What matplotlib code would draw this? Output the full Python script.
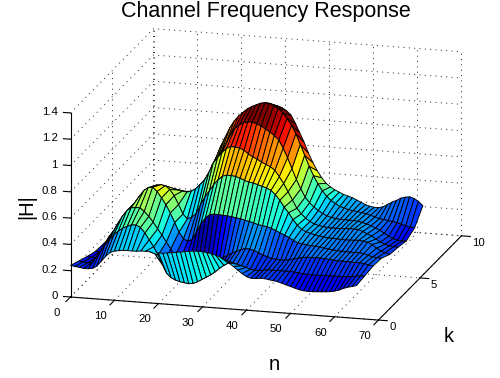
import numpy as np
import matplotlib
matplotlib.use("Agg")
import matplotlib.pyplot as plt
from mpl_toolkits.mplot3d import proj3d

plt.rcParams['font.family'] = ['Liberation Sans', 'DejaVu Sans']

n_values = list(range(0, 66))
k_values = list(range(0, 9))
z_k0 = [.24,.235,.23,.225,.225,.23,.25,.29,.33,.36,.375,.38,.385,.385,.385,.385,.39,.39,.39,.385,.385,.385,.39,.395,.40,.405,.41,.415,.42,.42,.42,.415,.41,.40,.39,.37,.35,.325,.30,.275,.255,.245,.245,.25,.25,.245,.24,.235,.225,.215,.205,.195,.185,.18,.178,.178,.18,.182,.185,.188,.195,.205,.22,.232,.24,.25]
z_k1 = [.21,.205,.20,.205,.25,.30,.35,.39,.43,.46,.485,.50,.515,.515,.50,.46,.41,.36,.30,.23,.165,.135,.12,.11,.105,.10,.105,.12,.14,.16,.18,.205,.235,.26,.28,.283,.275,.265,.255,.245,.24,.24,.245,.25,.25,.25,.25,.25,.25,.248,.243,.24,.238,.237,.237,.237,.238,.24,.24,.24,.24,.243,.247,.252,.256,.26]
z_k2 = [.18,.175,.175,.19,.27,.345,.39,.45,.505,.55,.575,.58,.58,.555,.52,.48,.43,.385,.335,.285,.235,.195,.16,.135,.12,.12,.125,.14,.16,.19,.22,.25,.27,.29,.305,.32,.33,.328,.32,.305,.29,.28,.27,.265,.262,.265,.27,.278,.288,.295,.30,.30,.30,.30,.298,.295,.293,.29,.29,.288,.287,.287,.287,.283,.276,.27]
z_k3 = [.155,.155,.17,.21,.26,.32,.38,.44,.50,.55,.60,.645,.67,.675,.645,.60,.55,.49,.42,.35,.30,.285,.30,.36,.425,.47,.50,.505,.505,.50,.50,.495,.49,.485,.475,.47,.46,.45,.445,.44,.43,.415,.40,.385,.37,.35,.335,.33,.325,.32,.318,.315,.31,.305,.30,.298,.295,.295,.295,.294,.294,.29,.28,.27,.267,.265]
z_k4 = [.15,.15,.16,.19,.24,.30,.36,.42,.48,.54,.585,.61,.625,.63,.625,.60,.555,.49,.42,.385,.40,.43,.50,.56,.61,.66,.70,.73,.74,.74,.735,.725,.71,.70,.695,.685,.675,.665,.65,.62,.58,.53,.49,.44,.40,.37,.355,.345,.335,.33,.325,.32,.32,.318,.316,.316,.316,.318,.32,.315,.31,.295,.27,.25,.24,.23]
z_k5 = [.15,.15,.16,.18,.22,.27,.32,.37,.42,.47,.51,.53,.54,.54,.54,.53,.525,.52,.53,.55,.585,.62,.68,.755,.80,.84,.875,.89,.89,.885,.87,.845,.825,.81,.79,.775,.76,.735,.69,.64,.58,.52,.46,.42,.39,.365,.35,.34,.335,.33,.33,.33,.33,.332,.334,.334,.333,.32,.305,.29,.27,.25,.235,.226,.222,.22]
z_k6 = [.16,.16,.165,.18,.21,.25,.29,.33,.37,.41,.44,.46,.47,.465,.455,.445,.45,.46,.47,.52,.59,.665,.72,.78,.84,.91,.96,.99,1.01,1.02,1.02,1.01,.995,.975,.955,.93,.90,.84,.77,.69,.61,.54,.48,.44,.41,.385,.365,.35,.34,.335,.33,.33,.33,.33,.327,.32,.31,.30,.285,.27,.25,.23,.215,.205,.20,.205]
z_k7 = [.19,.185,.185,.19,.20,.22,.24,.27,.295,.32,.345,.36,.375,.385,.39,.40,.41,.455,.51,.60,.67,.755,.825,.895,.95,.99,1.02,1.05,1.07,1.085,1.10,1.107,1.105,1.09,1.07,1.04,1.00,.95,.89,.81,.73,.65,.58,.52,.47,.43,.40,.38,.36,.35,.34,.335,.33,.325,.32,.31,.30,.29,.285,.28,.275,.27,.26,.25,.245,.24]
z_k8 = [.22,.215,.21,.205,.20,.205,.21,.22,.23,.24,.25,.26,.27,.28,.29,.31,.40,.47,.55,.63,.70,.76,.81,.85,.89,.92,.94,.96,.99,1.01,1.02,1.025,1.02,1.01,.99,.96,.90,.83,.76,.68,.61,.55,.50,.46,.435,.415,.40,.385,.375,.365,.35,.335,.32,.31,.305,.305,.315,.335,.355,.37,.39,.40,.405,.395,.375,.345]
n_ticks = [0, 10, 20, 30, 40, 50, 60, 70]
k_ticks = [0, 5, 10]
z_ticks = [0, 0.2, 0.4, 0.6, 0.8, 1.0, 1.2, 1.4]
z_tick_labels = ['0', '0.2', '0.4', '0.6', '0.8', '1', '1.2', '1.4']

W, H = 500, 378
fig = plt.figure(figsize=(W/100, H/100), dpi=100)
size = 320
ax = fig.add_axes([100/W, 40/H, size/W, size/H], projection='3d',
                  proj_type='ortho', computed_zorder=False)
ax.set_xlim(0, 70, view_margin=0)
ax.set_ylim(0, 10, view_margin=0)
ax.set_zlim(0, 1.4, view_margin=0)
ax.view_init(elev=16, azim=-74.8)
ax.set_box_aspect((319, 316.6, 191.4))
ax.set_axis_off()


def to_px(x, y, z):
    px, py, _ = proj3d.proj_transform(x, y, z, ax.get_proj())
    return ax.transData.transform((px, py))

# fit the box so that its corners land where the reference has them
origin_target = np.array([70.5, H - 297.0])
right_target = np.array([378.5, H - 319.5])
for _ in range(3):
    ax.apply_aspect()
    a = to_px(0, 0, 0)
    b = to_px(70, 0, 0)
    s = np.linalg.norm(right_target - origin_target) / np.linalg.norm(b - a)
    size *= s
    pos = ax.get_position()
    ax.set_position([pos.x0, pos.y0, size/W, size/H])
    ax.apply_aspect()
    a = to_px(0, 0, 0)
    d = origin_target - a
    pos = ax.get_position()
    ax.set_position([pos.x0 + d[0]/W, pos.y0 + d[1]/H, size/W, size/H])
    ax.apply_aspect()


def label(x, y, z, s, **kw):
    p = to_px(x, y, z)
    fig.text(p[0]/W, p[1]/H, s, fontsize=8.2, va='center', **kw)

grid = dict(color='#222222', lw=0.7, ls=(0, (1, 4.5)), zorder=1)
for t in z_ticks:
    ax.plot([0, 0, 70], [0, 10, 10], [t, t, t], **grid)
for t in n_ticks:
    ax.plot([t, t, t], [0, 10, 10], [0, 0, 1.4], **grid)
for t in k_ticks:
    ax.plot([0, 70], [t, t], [0, 0], **grid)
    ax.plot([0, 0], [t, t], [0, 1.4], **grid)

Z = np.array([z_k0, z_k1, z_k2, z_k3, z_k4, z_k5, z_k6, z_k7, z_k8])
X, Y = np.meshgrid(n_values, k_values)
norm = plt.Normalize(0.08, 1.0, clip=True)
colors = matplotlib.colormaps['jet'](norm(Z))
ax.plot_surface(X, Y, Z, rstride=1, cstride=1, facecolors=colors, shade=False,
                edgecolor='black', linewidth=0.65, antialiased=True, zorder=2)

axis = dict(color='black', lw=0.8, zorder=3)
ax.plot([0, 70, 70], [0, 0, 10], [0, 0, 0], **axis)
ax.plot([0, 0], [0, 0], [0, 1.4], **axis)
for t in n_ticks:
    ax.plot([t, t], [0, -0.55], [0, 0], **axis)
    label(t, -1.7, -0.012, str(t), ha='center')
for t in k_ticks:
    ax.plot([70, 72], [t, t], [0, 0], **axis)
    label(72.5, t, -0.05, str(t), ha='left')
for t, lab in zip(z_ticks, z_tick_labels):
    ax.plot([0, -1.6], [0, 0], [t, t], **axis)
    label(-2.9, 0, t, lab, ha='right')

fig.text(266/W, 1 - 11/H, 'Channel Frequency Response', fontsize=15.5, ha='center', va='center')
fig.text(274/W, 1 - 365/H, 'n', fontsize=14.5, ha='center', va='center')
fig.text(449/W, 1 - 337/H, 'k', fontsize=14.5, ha='center', va='center')
fig.text(27/W, 1 - 207/H, '|H|', fontsize=14.5, rotation=90, ha='center', va='center')

fig.savefig('out.png', dpi=100)
